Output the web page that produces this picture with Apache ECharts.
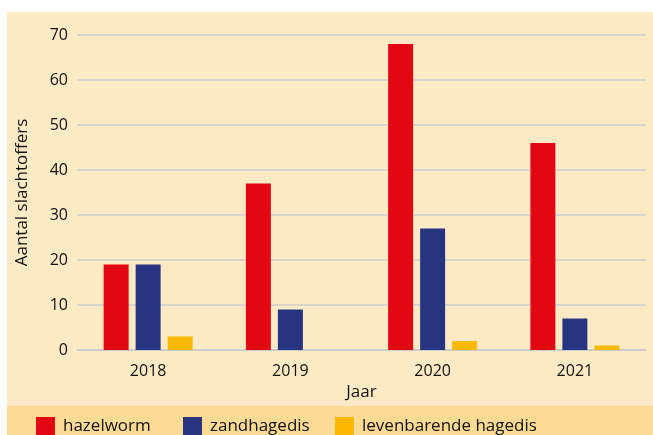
<!DOCTYPE html>
<html>
<head>
<meta charset="utf-8">
<script src="https://cdn.jsdelivr.net/npm/echarts@6/dist/echarts.min.js"></script>
<style>
html,body{margin:0;padding:0;background:#fff;}
#chart{width:653px;height:435px;}
</style>
</head>
<body>
<div id="chart"></div>
<script>
const categories = ['2018', '2019', '2020', '2021'];
const hazelworm = [19, 37, 68, 46];
const zandhagedis = [19, 9, 27, 7];
const levenbarende = [3, 0, 2, 1];
const yTicks = { min: 0, max: 70, interval: 10 };

const font = '"Open Sans", Lato, sans-serif';
const legendText = { fontSize: 17, color: '#111', fontFamily: font, padding: [3, 0, 0, 3] };
const chart = echarts.init(document.getElementById('chart'));
chart.setOption({
  animation: false,
  textStyle: { fontFamily: font },
  graphic: [
    { type: 'rect', z: -10, shape: { x: 7, y: 12, width: 646, height: 394 }, style: { fill: '#feeac5' } },
    { type: 'rect', z: -10, shape: { x: 7, y: 406, width: 646, height: 29 }, style: { fill: '#fddb94' } }
  ],
  grid: { left: 77, right: 7, top: 35, bottom: 85 },
  legend: [
    { data: ['hazelworm'], left: 36, top: 417, padding: 0, icon: 'rect', itemWidth: 19, itemHeight: 19, textStyle: legendText },
    { data: ['zandhagedis'], left: 183, top: 417, padding: 0, icon: 'rect', itemWidth: 19, itemHeight: 19, textStyle: legendText },
    { data: ['levenbarende hagedis'], left: 335, top: 417, padding: 0, icon: 'rect', itemWidth: 19, itemHeight: 19, textStyle: legendText }
  ],
  xAxis: {
    type: 'category',
    data: categories,
    name: 'Jaar',
    nameLocation: 'middle',
    nameGap: 29,
    nameTextStyle: { fontSize: 17, color: '#111' },
    axisLine: { show: true, lineStyle: { color: '#c8c8c8', width: 1.5 } },
    axisTick: { show: false },
    axisLabel: { fontSize: 16, color: '#111', margin: 13 }
  },
  yAxis: {
    type: 'value',
    min: yTicks.min, max: yTicks.max, interval: yTicks.interval,
    name: 'Aantal slachtoffers',
    nameLocation: 'middle',
    nameGap: 46,
    nameTextStyle: { fontSize: 17, color: '#111' },
    axisLine: { show: false },
    axisTick: { show: false },
    axisLabel: { fontSize: 16, color: '#111', margin: 9 },
    splitLine: { lineStyle: { color: '#cdcdcd', width: 1.5 } }
  },
  series: [
    { name: 'hazelworm', type: 'bar', data: hazelworm, barWidth: 25, barGap: '28%', itemStyle: { color: '#e30613' } },
    { name: 'zandhagedis', type: 'bar', data: zandhagedis, barWidth: 25, barGap: '28%', itemStyle: { color: '#27347f' } },
    { name: 'levenbarende hagedis', type: 'bar', data: levenbarende, barWidth: 25, barGap: '28%', itemStyle: { color: '#fbba00' } }
  ]
});
</script>
</body>
</html>
